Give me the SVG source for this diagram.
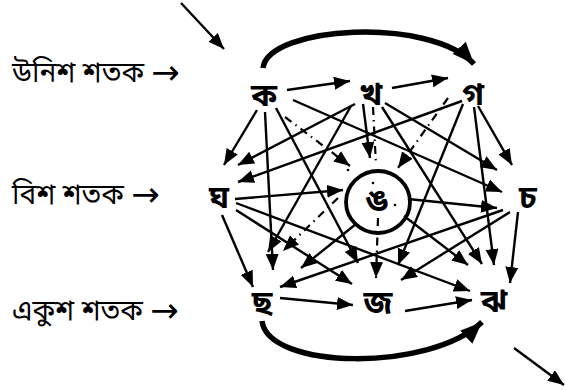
<svg xmlns="http://www.w3.org/2000/svg" width="565" height="390" viewBox="0 0 565 390">
<defs>
<marker id="ah" markerUnits="userSpaceOnUse" markerWidth="18" markerHeight="14" refX="16" refY="6.5" orient="auto">
<path d="M0,0 L16,6.5 L0,13 z" fill="#000"/>
</marker>
<marker id="bh" markerUnits="userSpaceOnUse" markerWidth="24" markerHeight="20" refX="22" refY="9" orient="auto">
<path d="M0,0 L22,9 L0,18 z" fill="#000"/>
</marker>
<style>
.lbl{font-family:'Noto Sans Bengali','Noto Serif Bengali','Lohit Bengali','FreeSerif',sans-serif;font-size:28px;fill:#000}
.ar{font-family:'DejaVu Sans',sans-serif;font-size:34px}
.nd{font-family:'Noto Sans Bengali','Noto Serif Bengali','Lohit Bengali','FreeSerif',sans-serif;font-size:32px;font-weight:bold;fill:#000;text-anchor:middle}
.e{stroke:#000;stroke-width:2.4;fill:none;marker-end:url(#ah)}
.d{stroke:#000;stroke-width:2.2;fill:none;stroke-dasharray:8 5 1.5 5}
.da{marker-end:url(#ah)}
.arc{stroke:#000;stroke-width:5.5;fill:none;marker-end:url(#bh)}
</style>
</defs>
<g id="labels">
<text class="lbl" x="12" y="82">উনিশ শতক <tspan class="ar" dy="2">→</tspan></text>
<text class="lbl" x="12" y="204">বিশ শতক <tspan class="ar" dy="2">→</tspan></text>
<text class="lbl" x="12" y="320">একুশ শতক <tspan class="ar" dy="2">→</tspan></text>
</g>
<g id="connectors">
<line class="e" x1="181" y1="3" x2="224" y2="49"/>
<line class="e" x1="514" y1="348" x2="564" y2="385"/>
<path class="arc" d="M263,68 C268,26 430,16 474,64"/>
<path class="arc" d="M262,321 C268,370 430,372 482,322"/>
<line class="e" x1="287" y1="90" x2="350" y2="81"/>
<line class="e" x1="392" y1="88" x2="448" y2="78"/>
<line class="e" x1="235" y1="199" x2="343" y2="190"/>
<line class="e" x1="280" y1="298" x2="353" y2="305"/>
<line class="e" x1="405" y1="311" x2="472" y2="300"/>
<line class="e" x1="257" y1="110" x2="224" y2="165"/>
<line class="e" x1="355" y1="104" x2="238" y2="165"/>
<line class="e" x1="462" y1="101" x2="238" y2="182"/>
<line class="e" x1="363" y1="104" x2="370" y2="158"/>
<line class="e" x1="293" y1="100" x2="502" y2="192"/>
<line class="e" x1="385" y1="103" x2="497" y2="170"/>
<line class="e" x1="478" y1="106" x2="512" y2="165"/>
<line class="e" x1="408" y1="199" x2="497" y2="208"/>
<line class="e" x1="265" y1="112" x2="273" y2="270"/>
<line class="e" x1="351" y1="106" x2="268" y2="252"/>
<line class="e" x1="356" y1="224" x2="301" y2="268"/>
<line class="e" x1="222" y1="215" x2="253" y2="287"/>
<line class="e" x1="503" y1="210" x2="280" y2="287"/>
<line class="e" x1="276" y1="108" x2="358" y2="263"/>
<line class="e" x1="463" y1="104" x2="398" y2="265"/>
<line class="e" x1="236" y1="210" x2="352" y2="284"/>
<line class="e" x1="510" y1="212" x2="401" y2="280"/>
<line class="e" x1="382" y1="107" x2="482" y2="264"/>
<line class="e" x1="474" y1="107" x2="494" y2="265"/>
<line class="e" x1="236" y1="203" x2="470" y2="291"/>
<line class="e" x1="404" y1="216" x2="468" y2="265"/>
<line class="e" x1="518" y1="212" x2="510" y2="283"/>
<line class="d da" x1="285" y1="117" x2="350" y2="166"/>
<line class="d da" x1="448" y1="98" x2="398" y2="168"/>
<line class="d da" x1="338" y1="198" x2="283" y2="251"/>
<line class="d da" x1="378" y1="218" x2="376" y2="278"/>
<line class="d" x1="373" y1="107" x2="376" y2="165"/>
<g fill="#000">
<circle cx="348" cy="170" r="1.3"/>
<circle cx="367" cy="172" r="1.3"/>
<circle cx="373" cy="183" r="1.3"/>
<circle cx="395" cy="205" r="1.3"/>
</g>
</g>
<g id="n-ka"><text class="nd" x="264" y="106">ক</text></g>
<g id="n-kha"><text class="nd" x="371" y="105">খ</text></g>
<g id="n-ga"><text class="nd" x="473" y="105">গ</text></g>
<g id="n-gha"><text class="nd" x="219" y="208">ঘ</text></g>
<g id="n-nga"><ellipse cx="378" cy="202" rx="32" ry="31" fill="none" stroke="#000" stroke-width="3.8"/><text class="nd" x="377" y="211">ঙ</text></g>
<g id="n-ca"><text class="nd" x="528" y="208">চ</text></g>
<g id="n-cha"><text class="nd" x="262" y="313">ছ</text></g>
<g id="n-ja"><text class="nd" x="378" y="313">জ</text></g>
<g id="n-jha"><text class="nd" x="494" y="312">ঝ</text></g>
</svg>
